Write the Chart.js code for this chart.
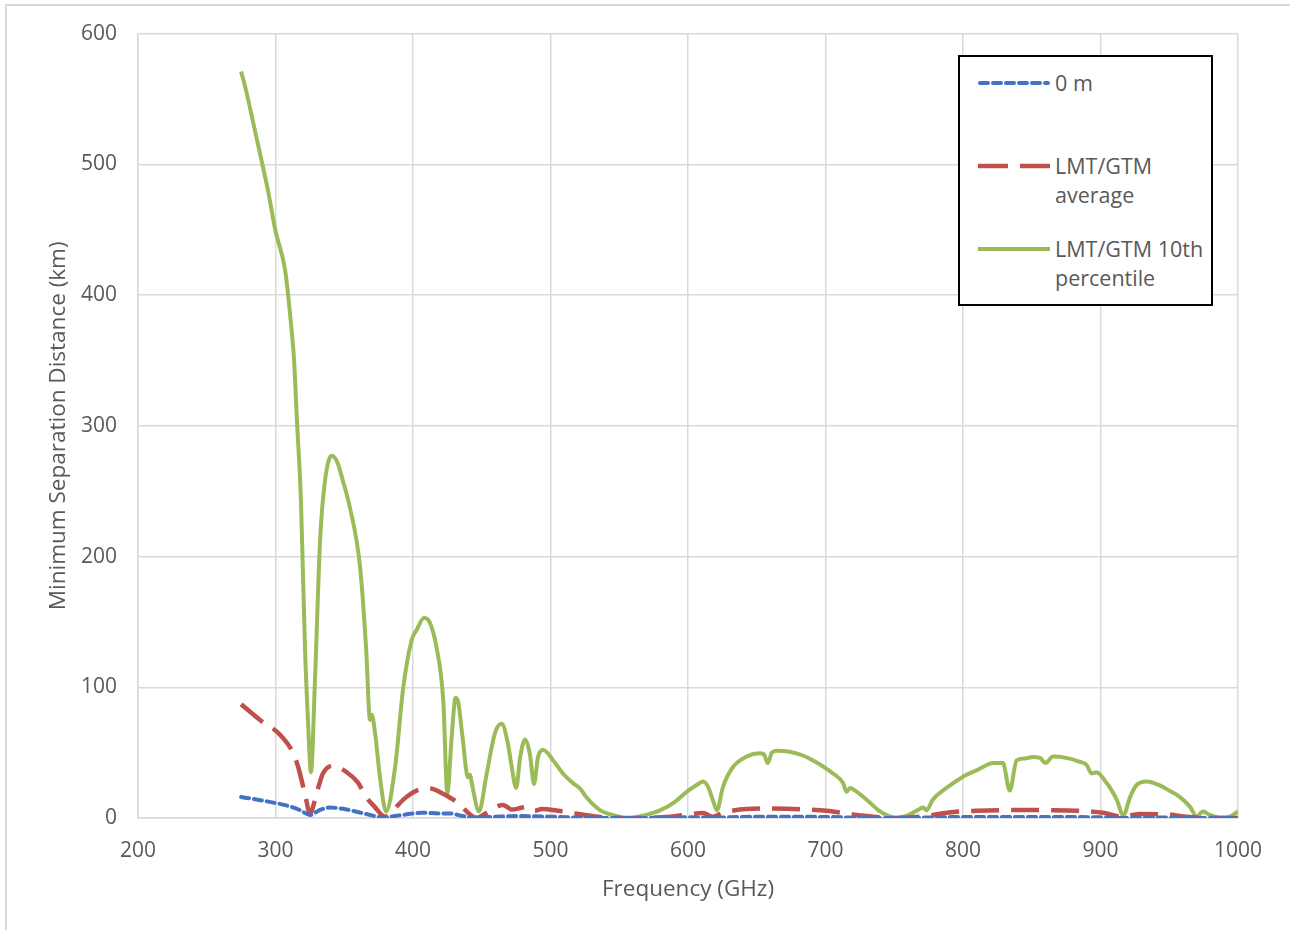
<!DOCTYPE html>
<html>
<head>
<meta charset="utf-8">
<script src="https://cdn.jsdelivr.net/npm/chart.js@4"></script>
<style>
  html, body { margin: 0; padding: 0; background: #fff; }
  #wrap { position: relative; width: 1290px; height: 933px; }
  #frame { position: absolute; left: 5px; top: 4px; right: -2px; bottom: 3px;
           border-left: 2px solid #d9d9d9; border-top: 2px solid #d9d9d9; }
  #legend { position: absolute; left: 958px; top: 55px; width: 255px; height: 251px;
            border: 2px solid #000; background: #fff; box-sizing: border-box;
            font-family: "Open Sans", sans-serif; font-size: 21.5px; color: #595959; }
  .item { position: absolute; left: 18px; display: flex; align-items: flex-start; }
  .item svg { margin-top: 12px; margin-right: 5px; }
  .item span { line-height: 29px; }
</style>
</head>
<body>
<div id="wrap">
  <div id="frame"></div>
  <canvas id="chart" width="1290" height="933"></canvas>
  <div id="legend">
    <div class="item" style="top:11px">
      <svg width="72" height="6"><line x1="2" y1="3" x2="70" y2="3" stroke="#4472c4" stroke-width="4" stroke-dasharray="8 5" stroke-linecap="round"/></svg>
      <span>0 m</span>
    </div>
    <div class="item" style="top:94px">
      <svg width="72" height="6"><line x1="0" y1="3" x2="72" y2="3" stroke="#c0504d" stroke-width="4.5" stroke-dasharray="30 12"/></svg>
      <span>LMT/GTM<br>average</span>
    </div>
    <div class="item" style="top:177px">
      <svg width="72" height="6"><line x1="0" y1="3" x2="72" y2="3" stroke="#9bbb59" stroke-width="4"/></svg>
      <span>LMT/GTM 10th<br>percentile</span>
    </div>
  </div>
</div>
<script>
// Frequency (GHz) / separation (km), one pair of arrays per series
const freq0m = [275, 287, 299.6, 310, 317.8, 325, 332, 339.6, 349, 359, 368, 378, 390, 407, 420, 427, 436, 446, 460, 475, 499.6, 531, 560, 600, 620, 640, 670, 700, 740, 770, 800, 850, 900, 915, 940, 970, 1000];
const sep0m = [16, 14, 11.5, 9, 6, 2.3, 6, 8, 7, 4.8, 2.5, 0.5, 2, 4, 3.5, 3.5, 1.5, 0.3, 1, 1.5, 1, 0, 0, 0.5, 0.3, 0.8, 1, 0.8, 0, 0.3, 0.8, 0.8, 0.5, 0, 0.4, 0, 0];

const freqAvg = [275, 288.7, 303, 312.7, 316.5, 321.5, 325, 331, 334.5, 341.8, 351.8, 360, 366, 372, 379.6, 385.5, 394, 402.7, 412.4, 421.8, 427, 434, 440, 446, 453.6, 460.8, 465.5, 469, 472, 478, 482.7, 486, 488.7, 493.6, 505.5, 516, 525, 536, 558, 587, 601.5, 611, 618, 625.5, 642.7, 660, 671.8, 686, 700.8, 712, 722.7, 737, 747, 768.7, 782, 795, 810, 827, 845, 860.8, 882.7, 890, 902, 910, 915.4, 922, 928.7, 948, 962.7, 974.5, 994, 1000];
const sepAvg = [87, 75, 64, 50, 39, 18, 3.8, 23, 34, 40, 35, 27, 16, 8.7, 1, 6, 15, 21, 22.5, 18.5, 15.5, 10.5, 4, 0, 4, 8.7, 10, 8, 6.5, 7.6, 8.7, 7, 5.6, 6.9, 5.6, 3.8, 2.3, 0.7, 0, 1, 3, 3.8, 1, 4, 6.9, 7.2, 7.1, 6.5, 5.6, 4, 2.3, 0.8, 0, 1, 3, 4.8, 5.5, 6, 6.2, 6, 5.6, 5.3, 4, 2, 0.5, 2, 3, 2.8, 1, 0.3, 0, 0];

const freq10th = [275, 277.8, 285, 294.5, 300, 307, 311, 313.5, 315.6, 318.5, 321.5, 323.6, 325.8, 328.7, 332.4, 336, 340.9, 345, 349, 354, 361.5, 366, 368.7, 370, 372.4, 376, 380.4, 387, 392.7, 399, 402.7, 408, 412, 417, 422, 425, 428, 431, 433, 436, 440, 441.5, 442.7, 448, 453.6, 459.6, 464.5, 469, 471.8, 475, 478, 481.5, 485, 488, 491, 494.8, 502, 509, 516, 522, 526, 536, 546, 556, 568, 580, 590, 599, 606, 611, 614.5, 618, 621, 625.5, 632.7, 642.7, 652, 655, 658, 661, 664.5, 674, 683, 691, 705.5, 712.7, 715.4, 717.8, 724, 730, 739.6, 745, 752, 760, 767, 771, 773.5, 778, 788, 800, 811, 822, 829, 834, 839, 845, 851, 856, 860, 865.5, 875, 885, 890, 893.5, 897, 904.5, 907, 911.8, 916.6, 921.5, 926, 933.6, 943, 950, 957.8, 965, 970, 974.5, 979.6, 987, 994, 1000];
const sep10th = [571, 560, 526, 480, 449, 419, 381, 350, 304, 243, 128, 75, 35, 105, 212, 258, 277, 272, 258, 238, 192, 128, 75, 79, 65, 31, 5, 39, 98, 136, 144, 153, 150, 131, 90, 19, 60, 92, 88, 62, 31, 33, 27, 5, 34, 65, 72, 57, 39, 23, 47, 60, 49, 26, 47, 52, 44, 34, 27, 22, 16, 6, 2, 0, 2, 6, 12, 20, 25, 28, 24, 14, 6, 24, 39, 47, 49.5, 49, 42, 50, 51.5, 50.7, 48, 44, 34, 27, 20, 23, 19, 14, 5, 2, 0, 2, 6, 8, 6, 14, 23, 31.6, 37, 42, 42, 21, 44, 45.5, 46.6, 46, 42, 47, 46, 43, 40.5, 34, 35, 26.7, 23, 14, 2, 16, 25, 28, 25, 21, 16, 8.7, 1, 5, 2.3, 0.3, 1, 5];

const xTicks = [200, 300, 400, 500, 600, 700, 800, 900, 1000];
const yTicks = [0, 100, 200, 300, 400, 500, 600];

const toPoints = (xs, ys) => xs.map((x, i) => ({ x, y: ys[i] }));

const textColor = '#595959';
const gridColor = '#d9d9d9';
const tickFont = { family: '"Open Sans", sans-serif', size: 21 };
const titleFont = { family: '"Open Sans", sans-serif', size: 22.5 };

new Chart(document.getElementById('chart'), {
  type: 'line',
  data: {
    datasets: [
      {
        label: '0 m',
        data: toPoints(freq0m, sep0m),
        borderColor: '#4472c4',
        borderWidth: 4,
        borderDash: [8, 5],
        borderCapStyle: 'round',
        pointRadius: 0,
        cubicInterpolationMode: 'monotone',
      },
      {
        label: 'LMT/GTM average',
        data: toPoints(freqAvg, sepAvg),
        borderColor: '#c0504d',
        borderWidth: 4.5,
        borderDash: [28, 12],
        pointRadius: 0,
        cubicInterpolationMode: 'monotone',
      },
      {
        label: 'LMT/GTM 10th percentile',
        data: toPoints(freq10th, sep10th),
        borderColor: '#9bbb59',
        borderWidth: 4,
        pointRadius: 0,
        cubicInterpolationMode: 'monotone',
      },
    ],
  },
  options: {
    responsive: false,
    animation: false,
    layout: { padding: { left: 41, right: 52, top: 33, bottom: 26 } },
    plugins: { legend: { display: false }, tooltip: { enabled: false } },
    scales: {
      x: {
        type: 'linear',
        min: 200,
        max: 1000,
        afterBuildTicks: (scale) => { scale.ticks = xTicks.map(v => ({ value: v })); },
        afterFit: (scale) => { scale.height = 89; },
        grid: { color: gridColor, lineWidth: 1.5, drawTicks: false },
        border: { color: gridColor, width: 1.5 },
        ticks: { color: textColor, font: tickFont, padding: 20, maxRotation: 0, callback: (v) => String(v) },
        title: { display: true, text: 'Frequency (GHz)', color: textColor, font: titleFont, padding: { top: 4, bottom: 4 } },
      },
      y: {
        min: 0,
        max: 600,
        afterBuildTicks: (scale) => { scale.ticks = yTicks.map(v => ({ value: v })); },
        afterFit: (scale) => { scale.width = 97; },
        grid: { color: gridColor, lineWidth: 1.5, drawTicks: false },
        border: { color: gridColor, width: 1.5 },
        ticks: { color: textColor, font: tickFont, padding: 21, callback: (v) => String(v) },
        title: { display: true, text: 'Minimum Separation Distance (km)', color: textColor, font: titleFont, padding: { top: 4, bottom: 4 } },
      },
    },
  },
});
</script>
</body>
</html>
